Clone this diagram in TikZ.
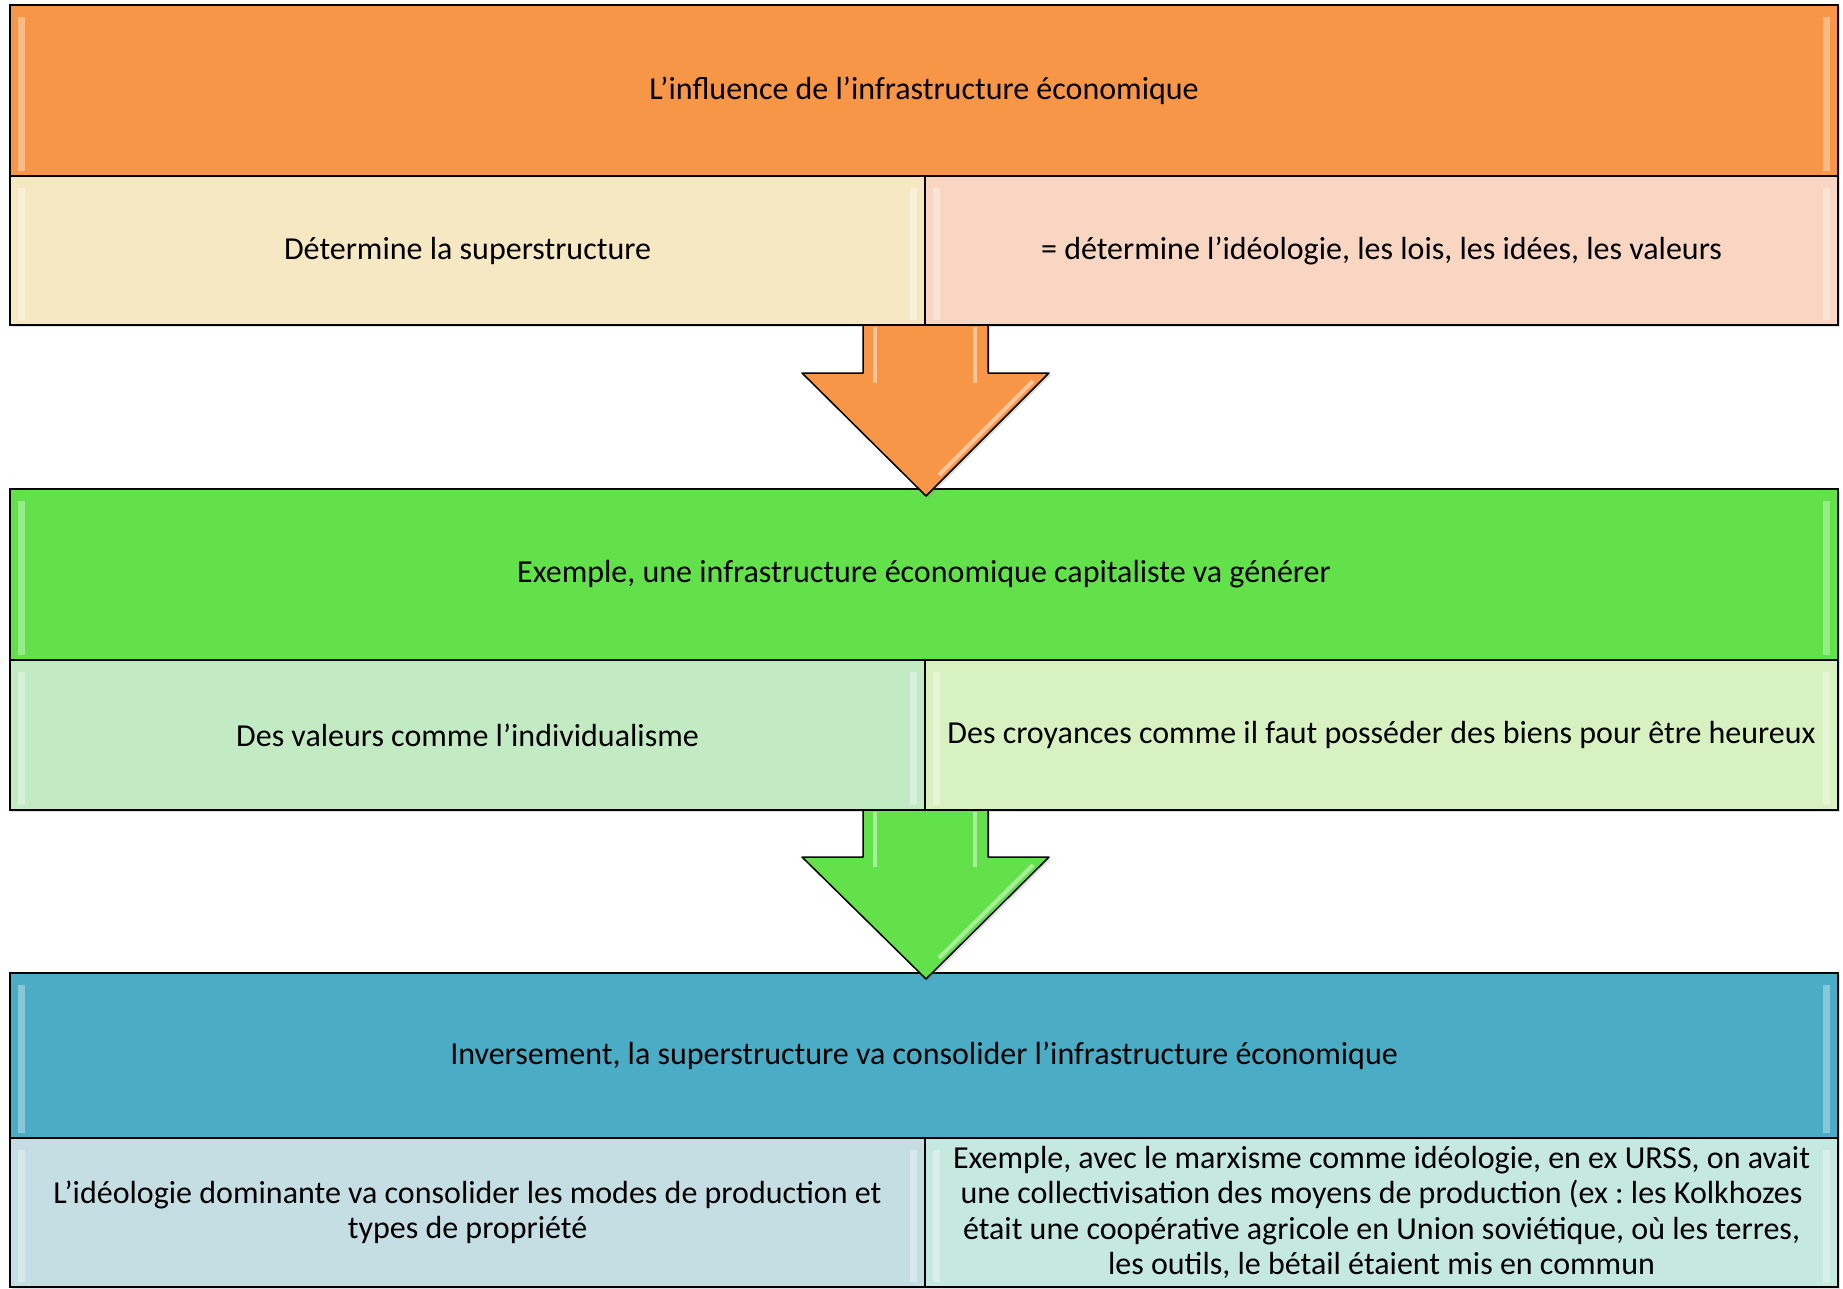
\documentclass[tikz,border=0pt]{standalone}
\usepackage{fontspec}
\setmainfont{Carlito}
\frenchspacing
\usetikzlibrary{positioning,calc,shadows}
\definecolor{InfraOrange}{RGB}{247,150,70}
\definecolor{SuperCream}{RGB}{246,232,194}
\definecolor{SuperPeach}{RGB}{248,214,194}
\definecolor{CapiGreen}{RGB}{98,225,74}
\definecolor{ValueMint}{RGB}{194,235,196}
\definecolor{BeliefLime}{RGB}{215,242,192}
\definecolor{ConsoBlue}{RGB}{75,172,198}
\definecolor{IdeoGrey}{RGB}{196,222,228}
\definecolor{UrssAqua}{RGB}{197,232,223}

\tikzset{
  bloc/.style={
    draw=black, line width=1.5pt, outer sep=0pt, inner sep=0pt,
    align=center, font=\fontsize{32}{35.3}\selectfont,
    drop shadow={opacity=.25, shadow xshift=2pt, shadow yshift=-2pt},
    path picture={
      \fill[white,opacity=.35] ([xshift=8pt,yshift=-12pt]path picture bounding box.north west)
        rectangle ([xshift=15pt,yshift=5pt]path picture bounding box.south west);
      \fill[white,opacity=.35] ([xshift=-15pt,yshift=-12pt]path picture bounding box.north east)
        rectangle ([xshift=-8pt,yshift=5pt]path picture bounding box.south east);
    }
  },
  tete/.style={bloc, minimum width=1828pt, anchor=north west},
  case/.style={bloc, minimum height=149pt},
  fleche/.style={draw=black, line width=1.5pt, line join=round,
    drop shadow={opacity=.25, shadow xshift=2pt, shadow yshift=-2pt}},
  reflet/.style={white, opacity=.45, line width=4pt}
}

\begin{document}
\begin{tikzpicture}[x=1pt, y={(0,-1pt)}]
\useasboundingbox (0,0) rectangle (1843,1289);

% premier bloc
\node[tete, fill=InfraOrange, minimum height=171pt] (head1) at (10,5)
  {L’influence de l’infrastructure économique};
\node[case, fill=SuperCream, minimum width=915pt, below right=0pt of head1.south west] (cellA1)
  {Détermine la superstructure};
\node[case, fill=SuperPeach, minimum width=913pt, right=0pt of cellA1] (cellB1)
  {= détermine l’idéologie, les lois, les idées, les valeurs};

% deuxieme bloc
\node[tete, fill=CapiGreen, minimum height=171pt] (head2) at (10,489)
  {Exemple, une infrastructure économique capitaliste va générer};
\node[case, fill=ValueMint, minimum width=915pt, minimum height=150pt, below right=0pt of head2.south west] (cellA2)
  {Des valeurs comme l’individualisme};
\node[case, fill=BeliefLime, minimum width=913pt, minimum height=150pt, right=0pt of cellA2] (cellB2)
  {Des croyances comme il faut posséder des biens pour être heureux};

% troisieme bloc
\node[tete, fill=ConsoBlue, minimum height=165pt] (head3) at (10,973)
  {Inversement, la superstructure va consolider l’infrastructure économique};
\node[case, fill=IdeoGrey, minimum width=915pt, below right=0pt of head3.south west] (cellA3)
  {L’idéologie dominante va consolider les modes de production et\\types de propriété};
\node[case, fill=UrssAqua, minimum width=913pt, right=0pt of cellA3] (cellB3)
  {Exemple, avec le marxisme comme idéologie, en ex URSS, on avait\\
   une collectivisation des moyens de production (ex : les Kolkhozes\\
   était une coopérative agricole en Union soviétique, où les terres,\\
   les outils, le bétail étaient mis en commun};

% fleches
\draw[fleche, fill=InfraOrange] ($(cellA1.south east)+(-62,0)$) -- ++(0,48) -- ++(-61,0)
  -- ($(cellA1.south east)+(1,171)$) -- ++(123,-123) -- ++(-61,0) -- ++(0,-48) -- cycle;
\draw[reflet] ($(cellA1.south east)+(-50,2)$) -- ++(0,56);
\draw[reflet] ($(cellA1.south east)+(50,2)$) -- ++(0,56);
\draw[reflet] ($(cellA1.south east)+(108,56)$) -- ($(cellA1.south east)+(14,150)$);

\draw[fleche, fill=CapiGreen] ($(cellA2.south east)+(-62,0)$) -- ++(0,47) -- ++(-61,0)
  -- ($(cellA2.south east)+(1,169)$) -- ++(123,-122) -- ++(-61,0) -- ++(0,-47) -- cycle;
\draw[reflet] ($(cellA2.south east)+(-50,2)$) -- ++(0,55);
\draw[reflet] ($(cellA2.south east)+(50,2)$) -- ++(0,55);
\draw[reflet] ($(cellA2.south east)+(108,55)$) -- ($(cellA2.south east)+(14,148)$);
\end{tikzpicture}
\end{document}
